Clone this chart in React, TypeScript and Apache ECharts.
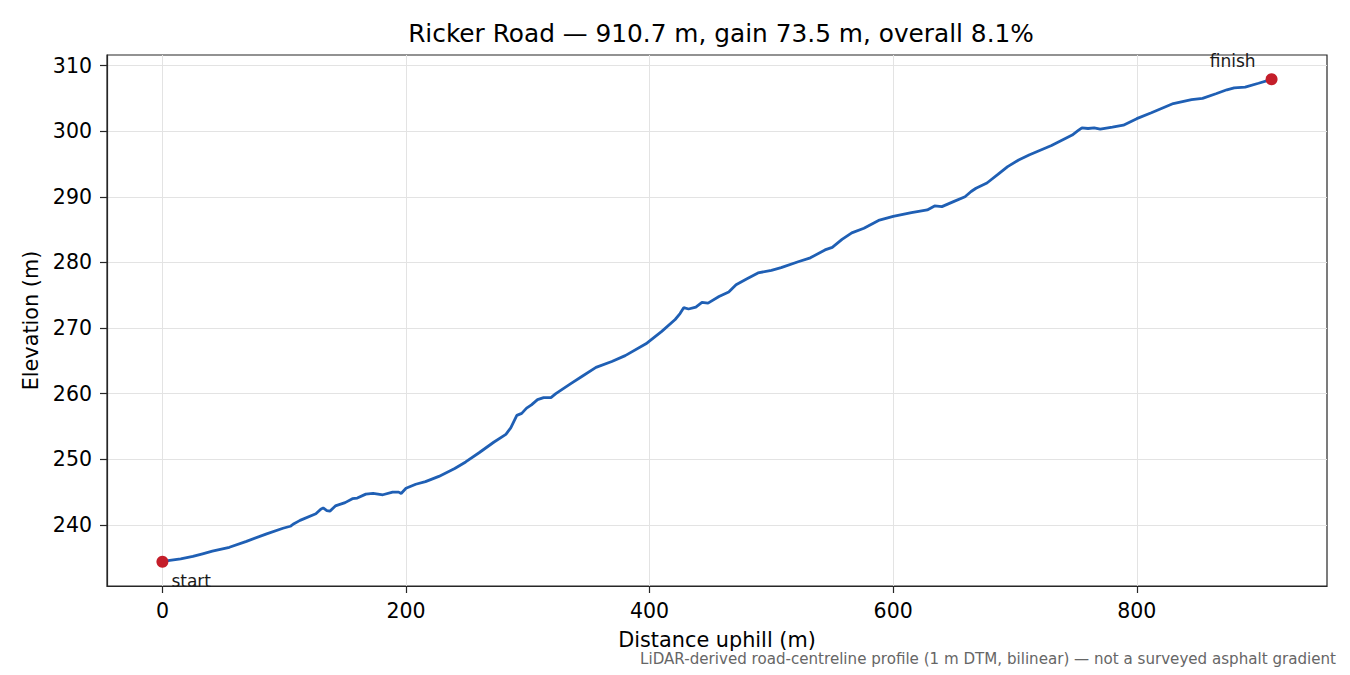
import { useEffect, useRef } from 'react';
import * as echarts from 'echarts';

// distance uphill (m) and elevation (m)
const distances = [
  0, 6, 15, 25, 33, 41, 55, 69, 85, 99, 105, 108, 113, 126, 130, 132, 135, 137.5, 142, 150,
  156, 160, 167, 173, 181, 189, 194, 196, 200, 208, 216, 227, 240, 249, 260, 272, 282, 286, 291, 295,
  299, 303, 308, 313, 319, 323, 335, 345, 356, 369, 380, 397, 410, 421, 425, 428, 432, 438, 443, 448,
  457, 465, 471, 480, 489, 500, 508, 522, 532, 544, 550, 558, 566, 576, 588, 600, 615, 628, 634, 640,
  650, 659, 664, 668, 677, 686, 694, 703, 712, 730, 747, 752, 755, 760, 765, 770, 780, 789, 800, 812,
  830, 845, 854, 865, 874, 880, 889, 900, 910.7,
];
const elevations = [
  234.4, 234.6, 234.85, 235.2, 235.6, 236.0, 236.6, 237.5, 238.6, 239.5, 239.8, 240.2, 240.7, 241.7, 242.4, 242.6, 242.2, 242.1, 242.9, 243.4,
  244.0, 244.1, 244.7, 244.8, 244.6, 245.0, 245.0, 244.8, 245.6, 246.2, 246.6, 247.4, 248.6, 249.6, 251.0, 252.6, 253.8, 254.8, 256.7, 257.0,
  257.8, 258.3, 259.1, 259.4, 259.4, 260.0, 261.5, 262.7, 264.0, 264.9, 265.8, 267.6, 269.5, 271.3, 272.2, 273.1, 272.9, 273.2, 273.9, 273.8,
  274.8, 275.5, 276.6, 277.5, 278.4, 278.8, 279.2, 280.1, 280.7, 281.9, 282.3, 283.5, 284.5, 285.2, 286.4, 287.0, 287.6, 288.0, 288.6, 288.5,
  289.3, 290.0, 290.8, 291.3, 292.1, 293.4, 294.6, 295.6, 296.4, 297.8, 299.4, 300.1, 300.5, 300.4, 300.5, 300.3, 300.6, 300.9, 301.9, 302.8,
  304.2, 304.8, 305.0, 305.7, 306.3, 306.6, 306.7, 307.3, 307.9,
];

const xTicks = [0, 200, 400, 600, 800];
const yTicks = [240, 250, 260, 270, 280, 290, 300, 310];

const endpointNames = ['start', 'finish'];

const FONT = 'DejaVu Sans';

export default function App() {
  const chartRef = useRef<HTMLDivElement>(null);

  useEffect(() => {
    if (!chartRef.current) return;
    const chart = echarts.init(chartRef.current, undefined, { renderer: 'svg' });

    const profile = distances.map((d, i) => [d, elevations[i]]);
    const last = distances.length - 1;
    const endpoints = [
      { value: [distances[0], elevations[0]], name: endpointNames[0] },
      { value: [distances[last], elevations[last]], name: endpointNames[1] },
    ];

    const axisCommon = {
      axisLine: { show: true, onZero: false, lineStyle: { color: '#262626', width: 1.2 } },
      axisTick: { show: true, length: 7, lineStyle: { color: '#262626', width: 1.2 } },
      splitLine: { show: true, lineStyle: { color: '#e3e3e3', width: 1 } },
    };

    const option: echarts.EChartsOption = {
      animation: false,
      backgroundColor: '#ffffff',
      title: {
        text: 'Ricker Road — 910.7 m, gain 73.5 m, overall 8.1%',
        left: 716,
        top: 16,
        textAlign: 'center',
        textStyle: { fontFamily: FONT, fontSize: 24.8, fontWeight: 'normal', color: '#000' },
      },
      grid: {
        left: 107,
        right: 23,
        top: 55,
        bottom: 89,
        show: true,
        borderColor: '#262626',
        borderWidth: 1.2,
        backgroundColor: 'transparent',
      },
      xAxis: {
        type: 'value',
        min: -45.5,
        max: 956.2,
        name: 'Distance uphill (m)',
        nameLocation: 'middle',
        nameGap: 43,
        nameTextStyle: { fontFamily: FONT, fontSize: 20.8, color: '#000' },
        ...axisCommon,
        axisTick: { ...axisCommon.axisTick, customValues: xTicks },
        axisLabel: {
          customValues: xTicks,
          margin: 14,
          fontFamily: FONT,
          fontSize: 20.5,
          color: '#000',
        },
      },
      yAxis: {
        type: 'value',
        min: 230.7,
        max: 311.6,
        name: 'Elevation (m)',
        nameLocation: 'middle',
        nameGap: 58,
        nameTextStyle: { fontFamily: FONT, fontSize: 20.8, color: '#000' },
        ...axisCommon,
        axisTick: { ...axisCommon.axisTick, customValues: yTicks },
        axisLabel: {
          customValues: yTicks,
          margin: 15,
          fontFamily: FONT,
          fontSize: 20.5,
          color: '#000',
        },
      },
      series: [
        {
          type: 'line',
          data: profile,
          showSymbol: false,
          lineStyle: { color: '#1f5fb4', width: 2.8 },
          z: 2,
        },
        {
          type: 'scatter',
          data: endpoints,
          symbolSize: 12,
          itemStyle: { color: '#c41e2a', opacity: 1 },
          z: 3,
          label: {
            show: true,
            formatter: (p: any) => p.name,
            fontFamily: FONT,
            fontSize: 17,
            color: '#1a1a1a',
            position: 'inside',
            verticalAlign: 'middle',
          },
          labelLayout: (params: any) =>
            params.dataIndex === 0
              ? { x: params.rect.x + params.rect.width / 2 + 9, y: params.rect.y + params.rect.height / 2 + 19, align: 'left', verticalAlign: 'middle' }
              : { x: params.rect.x + params.rect.width / 2 - 16, y: params.rect.y + params.rect.height / 2 - 18, align: 'right', verticalAlign: 'middle' },
        },
      ],
      graphic: [
        {
          type: 'text',
          right: 14,
          top: 651,
          style: {
            text: 'LiDAR-derived road-centreline profile (1 m DTM, bilinear) — not a surveyed asphalt gradient',
            fontFamily: FONT,
            fontSize: 15.1,
            fill: '#666666',
          },
        },
      ],
    };

    chart.setOption(option);

    return () => {
      chart.dispose();
    };
  }, []);

  return (
    <div
      ref={chartRef}
      style={{ position: 'fixed', left: 0, top: 0, width: '1350px', height: '675px' }}
    />
  );
}
